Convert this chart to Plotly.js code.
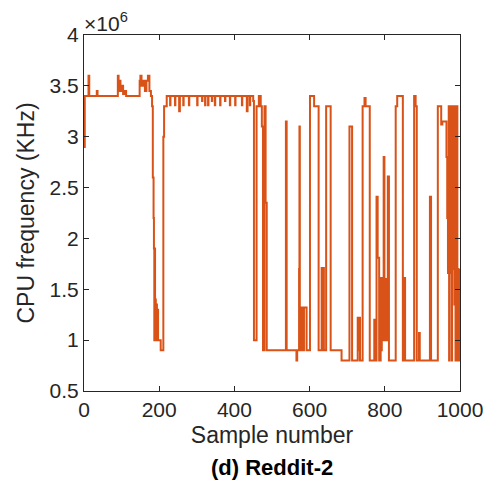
<!DOCTYPE html>
<html>
<head>
<meta charset="utf-8">
<script src="https://cdn.plot.ly/plotly-3.0.1.min.js"></script>
<style>html,body{margin:0;padding:0;background:#fff;}#chart{width:485px;height:487px;}</style>
</head>
<body>
<div id="chart"></div>
<script>
// Sample indices where the CPU frequency changes (step series, value holds until next index)
const sampleIdx = [
  0, 2, 12, 14, 34, 36, 90, 92, 95, 97, 100, 104, 108, 112,
  148, 150, 153, 157, 162, 166, 170, 174, 178, 181, 183, 185, 186,
  187, 188, 189, 190, 191, 193, 194, 196, 197, 204, 211, 213, 220,
  229, 230, 242, 243, 253, 255, 264, 265, 279, 280, 301, 302, 314, 315,
  322, 323, 330, 331, 340, 341, 348, 349, 362, 363, 375, 376, 388, 389,
  402, 403, 420, 421, 433, 435, 441, 442, 450,
  452, 459, 465, 470, 473, 476, 480, 483, 486,
  537, 539, 565, 567, 572, 573, 574, 578, 579, 582, 583, 585, 592,
  601, 612, 624, 632, 633, 637, 638, 644, 656,
  685, 706, 713, 728, 730, 732, 734, 741, 746, 749, 760,
  772, 774, 778, 781, 785, 789, 790, 792, 794, 797, 799, 801, 803, 808, 811,
  829, 833, 848, 851, 854, 878, 882, 885, 891, 893, 920, 923,
  941, 950, 953, 964, 966, 968, 970, 971, 972, 974, 975, 976, 977, 978, 979,
  981, 982, 983, 984, 985, 986, 988, 989, 990, 991, 993, 994, 996, 998, 1000
];
// CPU frequency in units of 1e6 KHz
const cpuFreq = [
  2.9, 3.4, 3.6, 3.4, 3.45, 3.4, 3.6, 3.45, 3.55, 3.45, 3.5, 3.42, 3.45, 3.4,
  3.55, 3.6, 3.5, 3.55, 3.45, 3.55, 3.6, 3.45, 3.4, 3.3, 2.6, 2.2, 1.9,
  1.0, 1.9, 1.1, 1.4, 1.0, 1.35, 1.0, 1.3, 1.0, 0.9, 3.0, 3.3, 3.4,
  3.31, 3.4, 3.31, 3.4, 3.25, 3.4, 3.31, 3.4, 3.31, 3.4, 3.31, 3.4, 3.35, 3.4,
  3.31, 3.4, 3.31, 3.4, 3.35, 3.4, 3.31, 3.4, 3.31, 3.4, 3.35, 3.4, 3.31, 3.4,
  3.31, 3.4, 3.31, 3.4, 3.25, 3.4, 3.31, 3.4, 3.35,
  1.0, 3.3, 3.4, 3.3, 3.1, 0.9, 3.3, 2.35, 0.9,
  3.15, 0.9, 0.8, 0.9, 1.7, 3.1, 0.9, 1.32, 0.9, 1.32, 0.9, 1.32, 0.9,
  3.4, 3.3, 0.9, 1.71, 0.9, 1.71, 0.9, 3.3, 0.9,
  0.8, 3.1, 0.8, 1.22, 0.9, 1.22, 0.8, 3.3, 3.38, 3.3, 0.8,
  1.2, 0.8, 2.41, 1.81, 0.8, 1.61, 0.9, 1.61, 1.0, 2.8, 1.0, 1.6, 1.0, 2.61, 0.8,
  3.3, 3.4, 0.8, 1.61, 0.8, 3.4, 3.3, 0.8, 1.07, 0.8, 2.41, 0.8,
  3.3, 3.12, 3.15, 2.8, 2.2, 1.66, 3.3, 0.8, 3.3, 2.25, 3.3, 1.66, 3.3, 0.8,
  3.3, 1.7, 3.3, 2.2, 3.3, 1.35, 3.3, 0.8, 3.3, 1.7, 3.3, 0.8, 1.7, 0.8, 1.7
];
const xTicks = [0, 200, 400, 600, 800, 1000];
const yTicks = [0.5, 1, 1.5, 2, 2.5, 3, 3.5, 4];
const yTickText = ['0.5', '1', '1.5', '2', '2.5', '3', '3.5', '4'];

const axisColor = '#262626';
const fontFam = '"Liberation Sans", Arial, sans-serif';

const trace = {
  x: sampleIdx, y: cpuFreq, type: 'scatter', mode: 'lines',
  line: {color: '#D95319', width: 2, shape: 'hv'}, hoverinfo: 'skip'
};

const layout = {
  width: 485, height: 487,
  margin: {l: 84, r: 25, t: 35, b: 96},
  paper_bgcolor: '#fff', plot_bgcolor: '#fff',
  showlegend: false,
  font: {family: fontFam, color: axisColor, size: 21},
  xaxis: {
    range: [0, 1000], tickvals: xTicks, ticks: 'inside', ticklen: 5, tickcolor: axisColor,
    showline: true, linecolor: axisColor, linewidth: 1, mirror: 'ticks', showgrid: false, zeroline: false,
    tickfont: {size: 21, color: axisColor, family: fontFam},
    title: {text: 'Sample number', font: {size: 23, color: axisColor, family: fontFam}, standoff: 6}
  },
  yaxis: {
    range: [0.5, 4], tickvals: yTicks, ticktext: yTickText, ticks: 'inside', ticklen: 5, tickcolor: axisColor,
    showline: true, linecolor: axisColor, linewidth: 1, mirror: 'ticks', showgrid: false, zeroline: false,
    tickfont: {size: 21, color: axisColor, family: fontFam},
    title: {text: 'CPU frequency (KHz)', font: {size: 23, color: axisColor, family: fontFam}, standoff: 8}
  },
  annotations: [
    {text: '×10<sup>6</sup>', xref: 'paper', yref: 'paper', x: 0, y: 1, xanchor: 'left', yanchor: 'bottom',
     showarrow: false, font: {size: 21, color: axisColor, family: fontFam}, xshift: -2, yshift: -2},
    {text: '<b>(d) Reddit-2</b>', xref: 'paper', yref: 'paper', x: 0.5, y: -0.2135, xanchor: 'center', yanchor: 'middle',
     showarrow: false, font: {size: 22, color: '#000', family: fontFam}}
  ]
};

Plotly.newPlot('chart', [trace], layout, {staticPlot: true, displayModeBar: false});
</script>
</body>
</html>
